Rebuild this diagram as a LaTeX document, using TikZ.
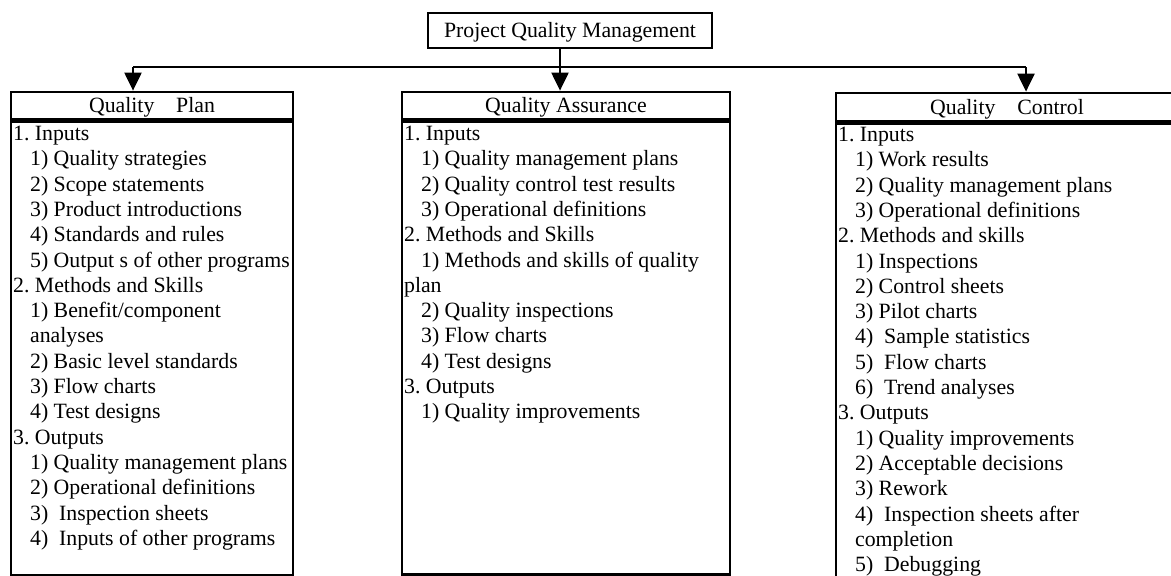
\documentclass[tikz,border=0pt]{standalone}
\usepackage{fontspec}
\setmainfont{Liberation Serif}
\usetikzlibrary{positioning,arrows.meta}

\newcommand{\itm}{\hspace*{8.5pt}}

\begin{document}
\frenchspacing
\begin{tikzpicture}[
    x=0.5pt, y=-0.5pt,
    txt/.style={font=\fontsize{10.9}{12.65}\selectfont},
    head/.style={rectangle, draw, line width=1.4pt, inner sep=0pt, minimum height=13.5pt, text height=7.2pt, text depth=0pt, txt},
    body/.style={rectangle, draw, line width=1.3pt, inner sep=0pt},
    list/.style={anchor=north west, align=left, inner sep=0pt, txt},
    link/.style={line width=1.1pt},
    arrow/.style={line width=1.1pt, -{Triangle[length=9pt,width=8.5pt]}}
]
\clip (0,0) rectangle (1171,575);

\node[head, minimum width=142pt, minimum height=17.5pt] (pqm) at (570,30.5) {Project Quality Management};

% the three branches
\node[head, minimum width=141pt] (plan) at (152,105.5) {Quality\quad Plan};
\node[body, minimum width=141pt, minimum height=227pt, below=0pt of plan] (planbody) {};
\node[list] (planlist) at ([xshift=1.5pt, yshift=-2.65pt]planbody.north west) {%
1. Inputs\\
\itm 1) Quality strategies\\
\itm 2) Scope statements\\
\itm 3) Product introductions\\
\itm 4) Standards and rules\\
\itm 5) Output s of other programs\\
2. Methods and Skills\\
\itm 1) Benefit/component\\
\itm analyses\\
\itm 2) Basic level standards\\
\itm 3) Flow charts\\
\itm 4) Test designs\\
3. Outputs\\
\itm 1) Quality management plans\\
\itm 2) Operational definitions\\
\itm 3)\ \ Inspection sheets\\
\itm 4)\ \ Inputs of other programs};

\node[head, minimum width=164pt] (assure) at (566,105.5) {Quality Assurance};
\node[body, minimum width=164pt, minimum height=226.5pt, below=0pt of assure] (assurebody) {};
\node[list] (assurelist) at ([xshift=1.5pt, yshift=-2.65pt]assurebody.north west) {%
1. Inputs\\
\itm 1) Quality management plans\\
\itm 2) Quality control test results\\
\itm 3) Operational definitions\\
2. Methods and Skills\\
\itm 1) Methods and skills of quality\\
plan\\
\itm 2) Quality inspections\\
\itm 3) Flow charts\\
\itm 4) Test designs\\
3. Outputs\\
\itm 1) Quality improvements};

\node[head, minimum width=171pt, minimum height=14pt] (control) at (1007,107) {Quality\quad Control};
\node[body, minimum width=171pt, minimum height=240pt, below=0pt of control] (controlbody) {};
\node[list] (controllist) at ([xshift=1.5pt, yshift=-2.15pt]controlbody.north west) {%
1. Inputs\\
\itm 1) Work results\\
\itm 2) Quality management plans\\
\itm 3) Operational definitions\\
2. Methods and skills\\
\itm 1) Inspections\\
\itm 2) Control sheets\\
\itm 3) Pilot charts\\
\itm 4)\ \ Sample statistics\\
\itm 5)\ \ Flow charts\\
\itm 6)\ \ Trend analyses\\
3. Outputs\\
\itm 1) Quality improvements\\
\itm 2) Acceptable decisions\\
\itm 3) Rework\\
\itm 4)\ \ Inspection sheets after\\
\itm completion\\
\itm 5)\ \ Debugging};

% connectors
\coordinate (fork) at (560,67);
\coordinate (ltip) at (133,67);
\coordinate (rtip) at (1026,67);
\draw[link] (pqm.south -| fork) -- (fork);
\draw[link] (ltip) -- (rtip);
\draw[arrow] (ltip) -- (ltip |- plan.north);
\draw[arrow] (fork) -- (fork |- assure.north);
\draw[arrow] (rtip) -- (rtip |- control.north);

\end{tikzpicture}
\end{document}
